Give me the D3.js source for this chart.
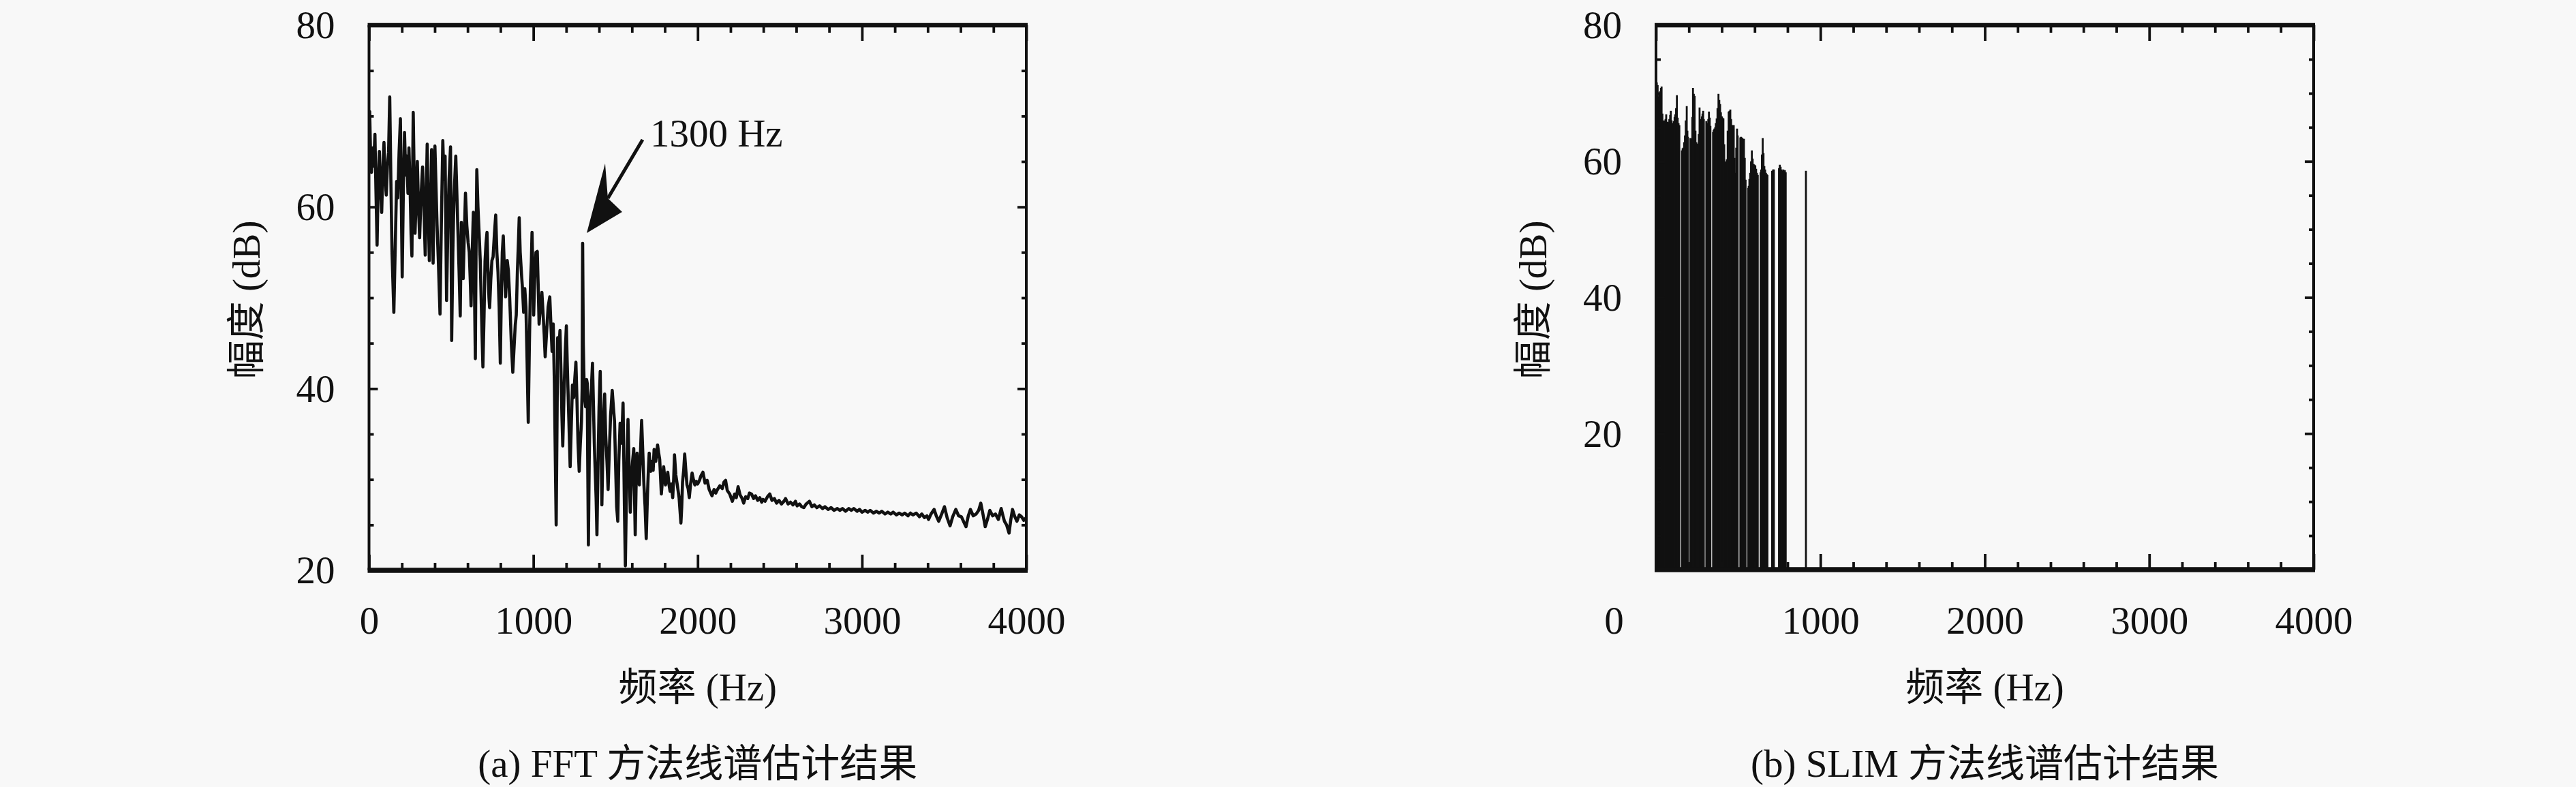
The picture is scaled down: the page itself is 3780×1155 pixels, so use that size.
<!DOCTYPE html>
<html><head><meta charset="utf-8">
<script src="https://cdn.jsdelivr.net/npm/d3@7"></script>
<style>
html,body{margin:0;padding:0;background:#f8f8f8;}
svg{display:block;}
</style></head><body>
<svg id="c" width="3780" height="1155"></svg>
<script>
// ---------------- data ----------------
const xMajorTicks = [0, 1000, 2000, 3000, 4000];
const xTickLabels = ["0", "1000", "2000", "3000", "4000"];
const xMinorTicks = [200,400,600,800,1200,1400,1600,1800,2200,2400,2600,2800,3200,3400,3600,3800];
const fftYMajor = [20, 40, 60, 80];
const fftYLabels = ["20", "40", "60", "80"];
const fftYMinor = [25,30,35,45,50,55,65,70,75];
const slimYMajor = [0, 20, 40, 60, 80];
const slimYLabels = ["", "20", "40", "60", "80"];
const slimYMinor = [5,10,15,25,30,35,45,50,55,65,70,75];

const xTitle = "频率 (Hz)";
const yTitle = "幅度 (dB)";
const captions = ["(a) FFT 方法线谱估计结果", "(b) SLIM 方法线谱估计结果"];
const annotation = {hz: 1300, db: 56.0, text: "1300 Hz"};

// FFT spectrum [Hz, dB]
const fftSpectrum = [
[0,70.0],[4,70.5],[9,66.0],[15,63.8],[22,66.5],[28,64.5],[36,68.0],[42,62.0],[49,55.8],[56,63.0],
[63,66.1],[70,62.0],[77,59.4],[84,64.0],[91,67.1],[98,63.0],[105,61.3],[112,64.5],[119,66.0],[126,72.1],
[133,63.0],[140,55.0],[151,48.4],[160,56.0],[168,62.8],[175,61.0],[183,66.0],[191,69.7],[197,60.0],[202,52.3],
[209,62.0],[216,68.2],[223,63.5],[230,65.6],[237,61.5],[243,66.5],[250,62.0],[256,57.0],[261,54.6],[265,63.0],
[269,70.4],[275,63.0],[280,57.1],[287,61.0],[294,65.0],[301,60.0],[308,56.6],[316,61.0],[326,64.4],[334,60.0],
[342,54.7],[348,61.0],[354,66.9],[360,60.0],[367,54.1],[374,60.0],[381,66.3],[386,60.0],[390,53.8],[396,62.0],
[401,66.7],[408,62.0],[414,58.0],[422,54.0],[432,48.2],[440,58.0],[449,67.3],[456,63.0],[463,65.6],[468,57.0],
[472,49.7],[480,58.0],[487,63.0],[496,66.6],[503,45.3],[510,55.0],[517,61.0],[528,65.6],
[540,58.0],[548,53.0],[555,48.0],[562,58.3],[567,55.0],[573,52.1],[580,57.0],[587,61.5],[595,58.0],[603,56.1],
[610,55.0],[616,52.0],[621,49.1],[628,55.0],[635,59.4],[641,52.0],[647,43.3],[652,57.0],[656,64.1],[663,60.0],
[670,57.1],[677,54.0],[685,48.0],[693,42.4],[700,48.0],[706,54.0],[712,56.0],[718,57.2],[724,53.0],[730,50.0],
[734,48.9],[741,52.0],[748,54.1],[755,54.5],[763,57.0],[771,59.1],[778,55.0],[785,52.8],[792,49.0],[799,42.8],
[805,50.0],[811,55.0],[817,56.8],[824,53.0],[831,50.1],[836,52.0],[841,54.1],[848,53.0],[856,50.0],[866,45.0],
[875,41.8],[884,45.0],[890,47.0],[896,48.1],[903,53.0],[909,56.0],[914,58.8],[920,55.0],[928,52.6],[934,51.0],
[941,48.4],[948,51.0],[955,49.0],[962,43.0],[969,36.3],[976,45.0],[983,51.9],[988,54.0],[992,57.2],[997,53.0],
[1002,48.1],[1008,52.0],[1016,55.0],[1024,55.1],[1030,51.0],[1035,47.1],[1043,49.0],[1052,50.6],[1060,48.0],[1066,46.0],
[1072,43.5],[1080,46.0],[1090,49.0],[1100,50.1],[1107,47.0],[1114,44.1],[1121,47.1],[1128,40.6],[1134,32.0],[1139,25.0],
[1144,36.0],[1148,45.6],[1155,44.0],[1162,46.4],[1168,42.0],[1174,37.0],[1179,33.7],[1186,39.0],[1194,44.0],[1201,46.9],
[1206,43.0],[1210,40.4],[1217,36.0],[1224,31.4],[1231,36.0],[1238,40.4],[1245,39.0],[1252,41.0],[1259,42.9],[1265,39.0],
[1272,34.0],[1279,30.9],[1286,34.0],[1293,36.4],[1297,40.0],[1300,56.0],[1304,45.0],[1310,39.4],[1318,38.0],[1324,41.0],
[1328,40.6],[1331,32.0],[1335,22.8],[1340,32.0],[1346,38.9],[1353,40.0],[1360,42.8],[1366,38.0],[1371,34.0],[1376,31.2],
[1382,28.0],[1387,23.9],[1393,31.0],[1400,38.0],[1407,41.9],[1412,35.0],[1417,27.2],[1423,33.0],[1428,37.0],[1434,39.4],
[1440,35.0],[1448,32.0],[1455,28.9],[1462,33.0],[1470,37.0],[1480,39.8],[1487,38.0],[1494,36.4],[1500,32.0],[1507,27.0],
[1514,25.4],[1520,32.0],[1528,36.2],[1537,34.0],[1546,38.4],[1550,33.0],[1555,26.0],[1560,20.5],[1566,28.0],[1571,33.0],
[1576,36.6],[1582,32.0],[1590,26.4],[1597,30.0],[1604,32.0],[1611,33.4],[1616,28.0],[1620,23.9],[1625,29.0],[1631,32.9],
[1638,31.0],[1645,29.4],[1652,33.0],[1659,36.5],[1666,33.0],[1673,29.4],[1680,27.0],[1687,23.5],[1694,28.0],[1700,31.0],
[1705,32.9],[1714,30.9],[1722,32.0],[1729,31.0],[1735,33.3],[1745,32.0],[1756,33.8],[1762,33.0],[1769,32.2],[1779,28.4],
[1786,30.0],[1793,31.4],[1804,29.4],[1811,30.0],[1818,30.8],[1825,29.5],[1832,28.7],[1840,29.5],[1848,28.0],[1854,30.0],
[1859,32.7],[1867,30.5],[1876,29.4],[1887,28.0],[1898,25.2],[1903,27.0],[1908,29.7],[1915,31.0],[1921,32.8],[1928,31.0],
[1935,29.4],[1942,29.0],[1949,28.0],[1957,29.5],[1966,30.7],[1974,30.0],[1983,29.4],[1991,29.8],[2000,29.5],[2011,29.9],
[2020,30.4],[2032,30.8],[2045,29.6],[2058,29.9],[2070,28.9],[2087,28.2],[2100,28.9],[2110,28.5],[2121,28.9],[2135,29.3],
[2150,29.0],[2160,29.7],[2170,29.9],[2180,28.8],[2195,28.4],[2211,27.6],[2225,28.4],[2235,28.0],[2246,29.2],[2258,28.3],
[2268,28.0],[2280,27.4],[2292,28.1],[2305,27.9],[2315,28.5],[2328,28.4],[2340,27.9],[2352,28.2],[2365,27.7],[2378,28.0],
[2390,27.5],[2398,27.8],[2410,27.6],[2425,28.1],[2439,28.4],[2452,27.7],[2467,27.9],[2480,27.4],[2495,27.7],[2510,27.3],
[2525,27.6],[2535,27.9],[2550,27.3],[2565,27.5],[2580,27.2],[2595,27.6],[2605,27.1],[2620,27.3],[2633,27.0],[2646,26.9],
[2660,27.3],[2680,27.6],[2695,27.0],[2710,27.2],[2725,26.9],[2742,27.1],[2760,26.8],[2775,27.0],[2795,26.7],[2812,26.9],
[2830,26.6],[2850,26.8],[2865,26.6],[2881,26.8],[2900,26.5],[2920,26.8],[2935,26.6],[2950,26.8],[2970,26.5],[2985,26.7],
[3000,26.4],[3019,26.6],[3035,26.4],[3050,26.6],[3070,26.3],[3088,26.5],[3105,26.3],[3120,26.5],[3140,26.2],[3157,26.4],
[3175,26.2],[3190,26.4],[3210,26.1],[3226,26.3],[3245,26.1],[3260,26.3],[3280,26.0],[3295,26.3],[3310,26.1],[3330,26.3],
[3350,25.9],[3364,26.2],[3380,25.8],[3395,26.0],[3405,25.6],[3420,26.2],[3439,26.7],[3452,26.0],[3467,25.4],[3485,26.2],
[3502,27.0],[3518,25.8],[3536,24.9],[3552,25.9],[3571,26.7],[3588,26.0],[3605,25.9],[3620,25.3],[3633,24.8],[3647,26.0],
[3660,26.7],[3677,26.0],[3695,26.2],[3710,26.6],[3723,27.4],[3737,26.1],[3750,24.8],[3765,25.7],[3778,26.6],[3795,26.0],
[3812,26.2],[3830,25.6],[3847,26.8],[3858,26.0],[3867,25.4],[3880,25.0],[3895,24.1],[3905,25.5],[3916,26.7],[3930,25.9],
[3943,25.4],[3957,26.1],[3971,25.9],[3985,25.5],[4000,25.8]
];

// SLIM line spectrum [Hz, dB]
const slimSpectrum = [
[0,71.6],[5,71.6],[10,71.2],[15,69.5],[20,70.0],[25,70.3],[30,70.8],[34,71.0],[39,67.0],[44,65.9],
[49,66.0],[54,65.8],[58,66.2],[62,66.9],[67,65.5],[72,65.8],[76,65.6],[81,66.2],[86,66.8],[90,67.4],
[95,66.0],[100,65.6],[104,65.6],[109,65.9],[113,66.5],[117,66.9],[122,67.8],[127,69.7],[132,66.4],[137,65.6],
[142,65.3],[158,61.6],[162,61.9],[166,62.0],[171,62.8],[176,63.8],[181,66.0],[187,68.1],[191,64.5],[194,63.6],
[209,63.4],[213,63.3],[217,63.3],[221,66.5],[225,70.8],[230,69.9],[235,69.6],[240,64.5],[245,62.8],[250,62.6],
[255,62.5],[260,64.0],[265,67.9],[269,66.2],[274,65.9],[279,66.6],[283,67.0],[287,67.4],[291,66.2],[306,65.9],
[310,65.6],[314,65.3],[318,66.2],[322,67.3],[327,66.4],[331,65.2],[347,64.3],[351,64.6],[355,64.8],[360,65.0],
[364,65.6],[369,66.3],[374,67.8],[380,69.9],[385,69.0],[390,68.4],[395,67.2],[401,66.6],[405,66.4],[410,66.3],
[415,62.5],[421,59.9],[426,60.0],[431,60.3],[436,64.5],[442,67.3],[447,67.4],[452,67.6],[457,66.2],[463,65.3],
[468,65.3],[473,65.3],[478,60.5],[483,58.3],[488,62.0],[493,64.8],[497,63.8],[513,63.5],[517,63.6],[521,63.5],
[525,63.4],[530,63.3],[535,63.3],[540,60.5],[545,57.3],[561,56.1],[564,56.4],[568,57.4],[573,58.3],[578,60.0],
[583,61.6],[588,60.4],[594,59.6],[599,59.5],[604,59.4],[609,58.9],[614,58.3],[619,58.0],[636,58.4],[640,58.8],
[644,61.0],[649,63.4],[654,61.2],[659,59.3],[664,58.8],[669,58.3],[674,58.1],[678,58.0],[706,58.6],[712,58.8],
[717,58.8],[748,59.0],[753,59.5],[758,59.2],[763,58.8],[768,58.6],[774,58.8],[779,58.7],[784,58.7],[789,58.4],
[912,58.6]
];

// ---------------- drawing ----------------
const svg = d3.select("#c");
svg.append("rect").attr("width", 3780).attr("height", 1155).attr("fill", "#f8f8f8");
const FONT = "'Liberation Serif','Noto Sans CJK SC',serif";
const FS = 57;
const INK = "#111";

function panel(o) {
  const g = svg.append("g");
  const x = d3.scaleLinear().domain([0, 4000]).range([o.left, o.right]);
  const y = d3.scaleLinear().domain(o.yDomain).range([o.bottom, o.top]);
  const cid = "clip" + o.key;
  svg.append("clipPath").attr("id", cid).append("rect")
    .attr("x", o.left).attr("y", o.top).attr("width", o.right - o.left).attr("height", o.bottom - o.top);
  const plot = g.append("g").attr("clip-path", `url(#${cid})`);
  o.draw(plot, x, y);

  const style = sel => {
    sel.select(".domain").remove();
    sel.selectAll(".tick line").attr("stroke", INK).attr("stroke-width", 3.8);
    sel.attr("font-family", FONT).attr("font-size", FS);
    sel.selectAll(".tick text").attr("fill", INK);
  };
  // bottom
  g.append("g").attr("transform", `translate(0,${o.bottom})`)
    .call(d3.axisBottom(x).tickValues(xMinorTicks).tickSize(-11).tickFormat("")).call(style);
  const xb = g.append("g").attr("transform", `translate(0,${o.bottom})`)
    .call(d3.axisBottom(x).tickValues(xMajorTicks).tickSize(-23).tickFormat((d, i) => xTickLabels[i])).call(style);
  xb.selectAll(".tick text").attr("y", 930 - o.bottom).attr("dy", null);
  if (o.zeroShift) xb.selectAll(".tick text").filter(d => d === 0).attr("x", o.zeroShift);
  // top
  g.append("g").attr("transform", `translate(0,${o.top})`)
    .call(d3.axisTop(x).tickValues(xMinorTicks).tickSize(-11).tickFormat("")).call(style);
  g.append("g").attr("transform", `translate(0,${o.top})`)
    .call(d3.axisTop(x).tickValues(xMajorTicks).tickSize(-23).tickFormat("")).call(style);
  // left
  g.append("g").attr("transform", `translate(${o.left},0)`)
    .call(d3.axisLeft(y).tickValues(o.yMinor).tickSize(-7).tickFormat("")).call(style);
  const yl = g.append("g").attr("transform", `translate(${o.left},0)`)
    .call(d3.axisLeft(y).tickValues(o.yMajor).tickSize(-13).tickFormat((d, i) => o.yLabels[i])).call(style);
  yl.selectAll(".tick text").attr("x", -50).attr("dy", "0.33em").attr("text-anchor", "end");
  // right
  g.append("g").attr("transform", `translate(${o.right},0)`)
    .call(d3.axisRight(y).tickValues(o.yMinor).tickSize(-7).tickFormat("")).call(style);
  g.append("g").attr("transform", `translate(${o.right},0)`)
    .call(d3.axisRight(y).tickValues(o.yMajor).tickSize(-13).tickFormat("")).call(style);

  // frame
  const fr = g.append("g").attr("stroke", INK);
  fr.append("line").attr("x1", o.left - 2).attr("x2", o.right + 2).attr("y1", o.top).attr("y2", o.top).attr("stroke-width", 6.5);
  fr.append("line").attr("x1", o.left - 2).attr("x2", o.right + 2).attr("y1", o.bottom).attr("y2", o.bottom).attr("stroke-width", 7.5);
  fr.append("line").attr("x1", o.left).attr("x2", o.left).attr("y1", o.top).attr("y2", o.bottom).attr("stroke-width", 4);
  fr.append("line").attr("x1", o.right).attr("x2", o.right).attr("y1", o.top).attr("y2", o.bottom).attr("stroke-width", 4);

  const cx = (o.left + o.right) / 2;
  const t = g.append("g").attr("font-family", FONT).attr("font-size", FS).attr("fill", INK);
  t.append("text").attr("x", cx).attr("y", 1028).attr("text-anchor", "middle").text(xTitle);
  t.append("text").attr("x", cx).attr("y", 1140).attr("text-anchor", "middle").text(o.caption);
  t.append("text").attr("transform", `translate(${o.left - 161},440) rotate(-90)`)
    .attr("text-anchor", "middle").text(yTitle);
  return {g, x, y};
}

// (a) FFT
const pa = panel({
  key: "a", left: 541.5, right: 1506, top: 37, bottom: 837,
  yDomain: [20, 80], yMajor: fftYMajor, yLabels: fftYLabels, yMinor: fftYMinor,
  caption: captions[0],
  draw: (plot, x, y) => {
    plot.append("path").datum(fftSpectrum)
      .attr("d", d3.line().x(d => x(d[0])).y(d => y(d[1])))
      .attr("fill", "none").attr("stroke", INK).attr("stroke-width", 4.6)
      .attr("stroke-linejoin", "round");
  }
});
// annotation arrow
{
  const px = pa.x(annotation.hz), py = pa.y(annotation.db);
  const tip = [px + 6, py - 15], wA = [px + 33, py - 117], notch = [px + 37, py - 66], wB = [px + 58, py - 46];
  const tail = [px + 88, py - 152];
  pa.g.append("line").attr("x1", tail[0]).attr("y1", tail[1]).attr("x2", notch[0]).attr("y2", notch[1])
    .attr("stroke", INK).attr("stroke-width", 5);
  pa.g.append("path").attr("d", "M" + [tip, wA, notch, wB].map(p => p.join(",")).join("L") + "Z").attr("fill", INK);
  pa.g.append("text").attr("x", px + 99).attr("y", py - 142)
    .attr("font-family", FONT).attr("font-size", FS).attr("fill", INK).text(annotation.text);
}

// (b) SLIM
panel({
  key: "b", left: 2430, right: 3395, top: 37, bottom: 836,
  yDomain: [0, 80], yMajor: slimYMajor, yLabels: slimYLabels, yMinor: slimYMinor,
  caption: captions[1], zeroShift: -62,
  draw: (plot, x, y) => {
    plot.selectAll("line.stem").data(slimSpectrum).join("line").attr("class", "stem")
      .attr("x1", d => x(d[0])).attr("x2", d => x(d[0]))
      .attr("y1", y(0)).attr("y2", d => y(d[1]))
      .attr("stroke", INK).attr("stroke-width", 2.8);
  }
});
</script>
</body></html>
